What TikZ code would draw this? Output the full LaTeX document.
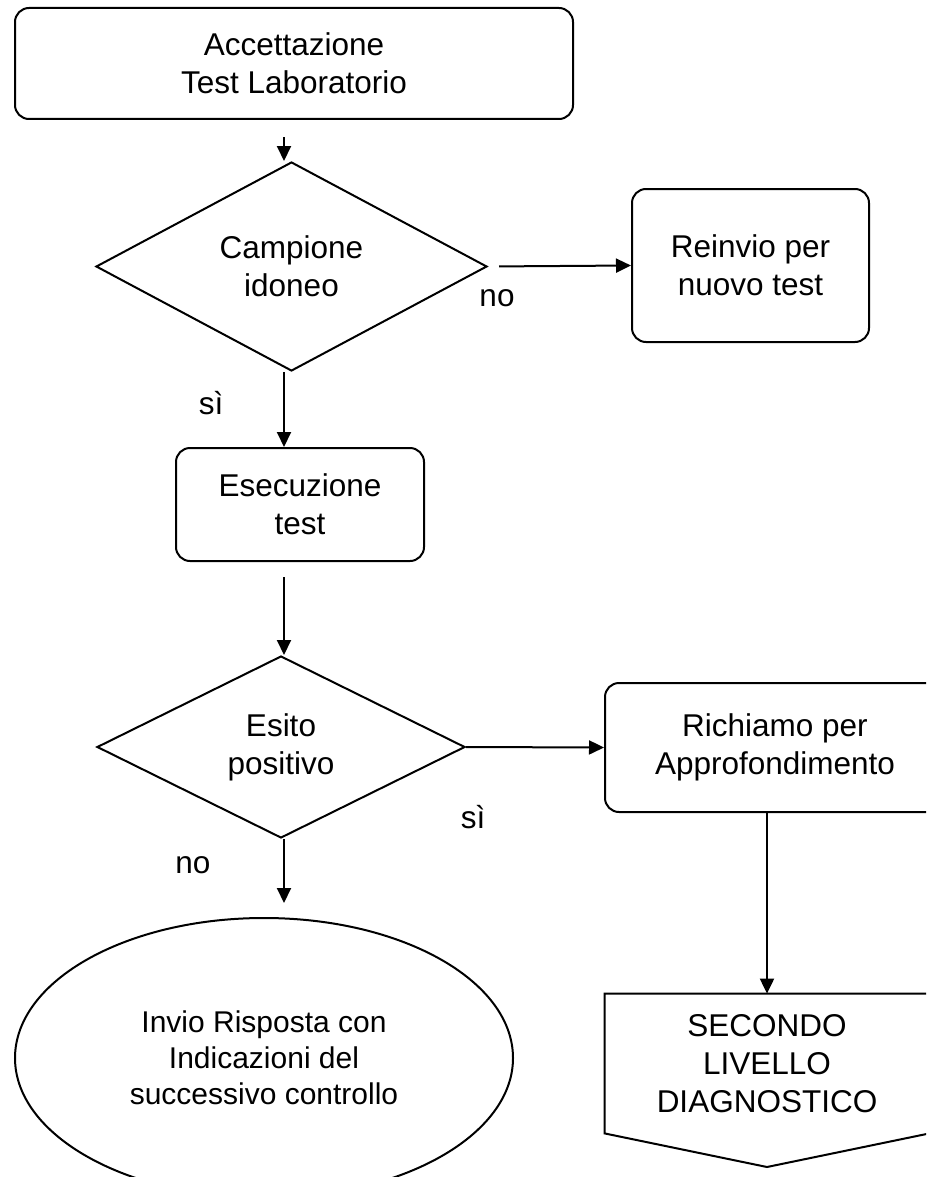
\documentclass[tikz,border=0pt]{standalone}
\usepackage{fontspec}
\setmainfont{Liberation Sans}
\usetikzlibrary{arrows.meta,shapes.geometric}
\tikzstyle{txt}=[font=\fontsize{15.75}{19}\selectfont, align=center, inner sep=0pt]
\tikzstyle{block}=[txt, draw, line width=1pt, rounded corners=7pt]
\tikzstyle{decision}=[txt, draw, line width=1pt, diamond, aspect=2]
\tikzstyle{terminal}=[draw, line width=1pt, ellipse, inner sep=0pt, align=center, font=\fontsize{15}{18}\selectfont]
\tikzstyle{edge}=[draw, line width=1pt, -{Triangle[length=7.5pt,width=7pt]}]
\tikzstyle{answer}=[txt]

\begin{document}
\begin{tikzpicture}[x=0.5pt, y=-0.5pt]
				% page frame, ellipse and right column run off the edge
				\clip (0,0) rectangle (926,1177);
				\coordinate (col) at (284,0);

				% First the boxes and decisions
				\node[block, minimum width=279pt, minimum height=55.5pt] (accept) at (294,63.5) {Accettazione\\Test Laboratorio};
				\node[decision, minimum width=195.5pt, minimum height=104.5pt] (camp) at (291.5,266.5) {Campione\\idoneo};
				\node[block, minimum width=118.5pt, minimum height=76.5pt] (reinvio) at (750.5,265.5) {Reinvio per\\nuovo test};
				\node[block, minimum width=124pt, minimum height=56.5pt] (esec) at (300,504.5) {Esecuzione\\test};
				\node[decision, minimum width=184pt, minimum height=91pt] (esito) at (281,747) {Esito\\positivo};
				\node[block, minimum width=170pt, minimum height=64.5pt] (richiamo) at (775,747.5) {Richiamo per\\Approfondimento};
				\node[terminal, minimum width=249pt, minimum height=140pt] (invio) at (264,1058) {Invio Risposta con\\Indicazioni del\\successivo controllo};

				% off-page connector
				\node[txt, minimum width=162pt, minimum height=69.5pt] (second) at (767,1063.5) {SECONDO\\LIVELLO\\DIAGNOSTICO};
				\coordinate (tip) at (767,1167);
				\draw[line width=1pt] (second.north west) -- (second.north east) -- (second.south east) -- (tip) -- (second.south west) -- cycle;

				% Connect the column and the branches
				\foreach \source/ \dest /\gap in {accept/camp/8.5pt, camp/esec/0pt, esec/esito/7.5pt}
				\path[edge, shorten <=\gap] (\source.south -| col) -- (\dest.north -| col);
				\path[edge, shorten >=7pt] (esito.south -| col) -- (invio.north -| col);
				\path[edge, shorten <=5.5pt] (camp.east) -- (reinvio.west);
				\path[edge] (esito.east) -- (richiamo.west);
				\path[edge] (richiamo.south -| second.north) -- (second.north);

				% answers
				\foreach \pos/\name/\txt in {{(497,298)/no1/no}, {(211,403)/si1/sì}, {(473,817)/si2/sì}, {(193,865)/no2/no}}
				\node[answer] (\name) at \pos {\txt};
			\end{tikzpicture}
\end{document}
